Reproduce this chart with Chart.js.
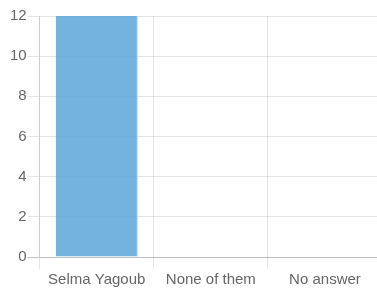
<!DOCTYPE html>
<html>
<head>
<meta charset="utf-8">
<script src="https://cdn.jsdelivr.net/npm/chart.js@4"></script>
<style>
    html, body { margin: 0; padding: 0; overflow: hidden; background: #fff; }
    #wrap { width: 382px; height: 291px; }
</style>
</head>
<body>
<div id="wrap"><canvas id="voteChart"></canvas></div>
<script>
const categories = ['Selma Yagoub', 'None of them', 'No answer'];
const votes = [12, 0, 0];
const yTicks = [0, 2, 4, 6, 8, 10, 12];

document.addEventListener('DOMContentLoaded', function () {
    const ctx = document.getElementById('voteChart').getContext('2d');
    const tickFont = { family: 'Liberation Sans, Arial, sans-serif', size: 15 };
    new Chart(ctx, {
        type: 'bar',
        data: {
            labels: categories,
            datasets: [{
                label: 'Votes',
                data: votes,
                backgroundColor: 'rgba(96, 168, 218, 0.88)',
                borderColor: 'rgba(160, 205, 240, 0.9)',
                borderWidth: { top: 0, left: 0, bottom: 0, right: 1 }
            }]
        },
        options: {
            responsive: true,
            maintainAspectRatio: false,
            animation: false,
            layout: { padding: { top: 16, right: 0, left: 9, bottom: 0 } },
            plugins: {
                legend: { display: false },
                tooltip: { enabled: false }
            },
            scales: {
                x: {
                    grid: {
                        color: 'rgba(0, 0, 0, 0.1)',
                        tickLength: 12
                    },
                    border: { display: false },
                    ticks: {
                        color: '#666',
                        font: tickFont,
                        padding: 2
                    }
                },
                y: {
                    min: 0,
                    max: 12,
                    afterBuildTicks: axis => {
                        axis.ticks = yTicks.map(v => ({ value: v }));
                    },
                    grid: {
                        color: c => c.tick && c.tick.value === 0 ? 'rgba(0, 0, 0, 0.25)' : 'rgba(0, 0, 0, 0.1)',
                        tickLength: 12
                    },
                    border: { color: 'rgba(0, 0, 0, 0.1)' },
                    ticks: {
                        color: '#666',
                        font: tickFont,
                        padding: 1
                    }
                }
            }
        }
    });
});
</script>
</body>
</html>
